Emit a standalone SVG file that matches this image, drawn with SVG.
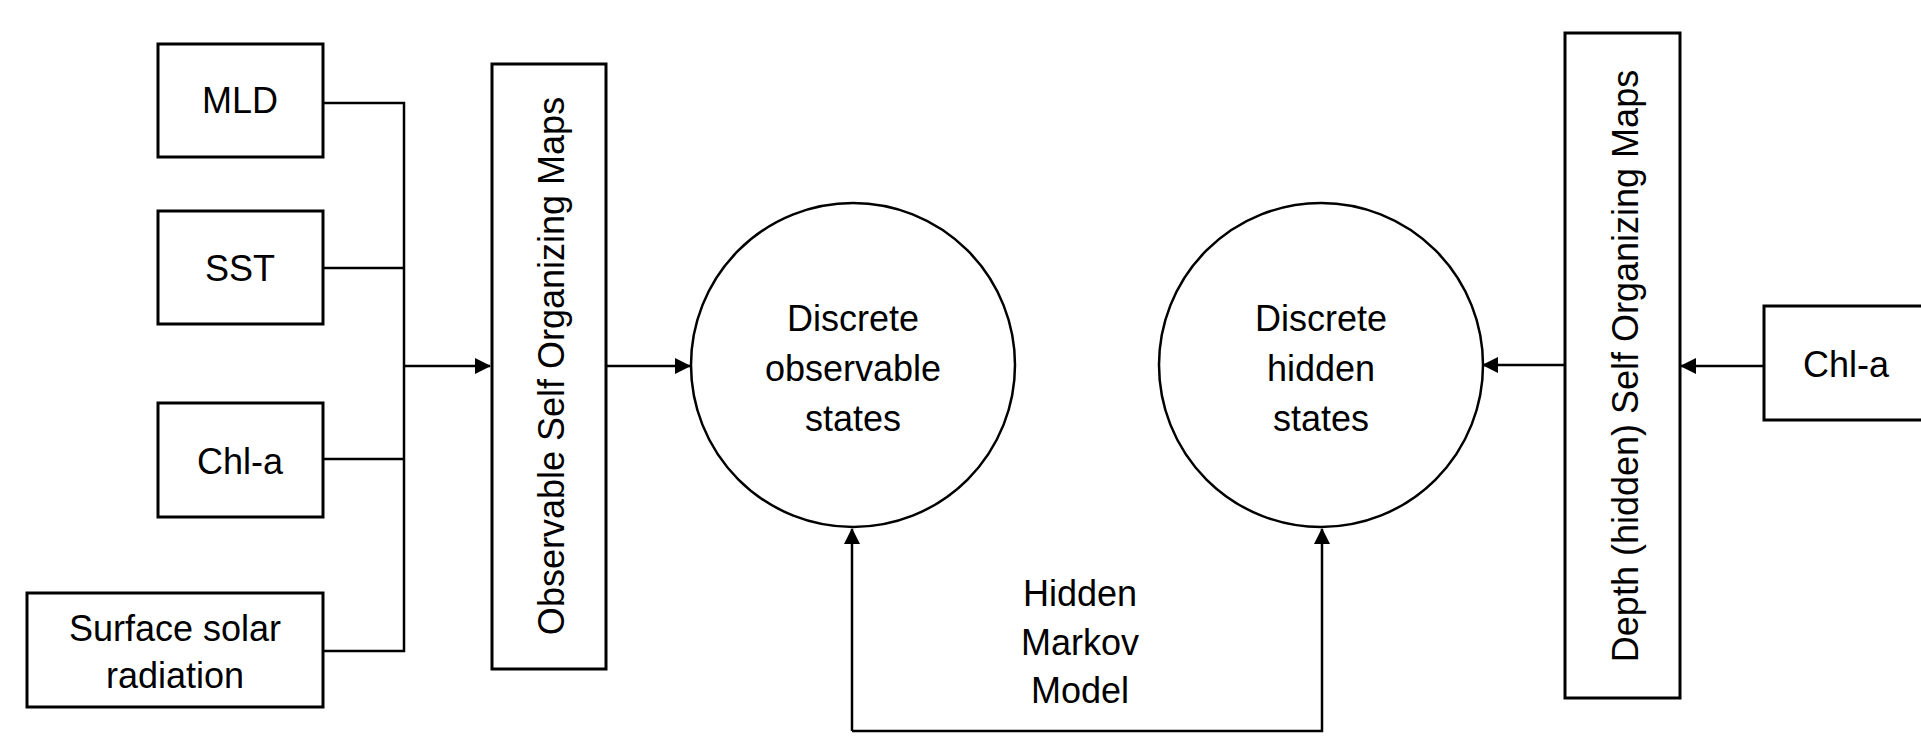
<svg xmlns="http://www.w3.org/2000/svg" width="1921" height="737" viewBox="0 0 1921 737">
<style>
.box{fill:#fff;stroke:#000;stroke-width:3}
.circ{fill:#fff;stroke:#000;stroke-width:2.5}
.conn{fill:none;stroke:#000;stroke-width:2.5}
.t{font-family:"Liberation Sans",Arial,sans-serif;font-size:36px;fill:#000;text-anchor:middle;dominant-baseline:central}
</style>
<defs>
<marker id="arr" markerUnits="userSpaceOnUse" markerWidth="16" markerHeight="16" refX="15" refY="8" orient="auto">
<path d="M0,0 L16,8 L0,16 Z" fill="#000"/>
</marker>
</defs>
<rect width="1921" height="737" fill="#fff"/>
<g id="connectors">
<path class="conn" d="M323,103 H404 V651 H323"/>
<path class="conn" d="M321,268 H404"/>
<path class="conn" d="M323,459 H404"/>
<path class="conn" d="M404,366 H490" marker-end="url(#arr)"/>
<path class="conn" d="M607,366 H690" marker-end="url(#arr)"/>
<path class="conn" d="M1565,365 H1483" marker-end="url(#arr)"/>
<path class="conn" d="M1764,366 H1681" marker-end="url(#arr)"/>
<path class="conn" d="M852,731 V529" marker-end="url(#arr)"/>
<path class="conn" d="M852,731 H1322 V529" marker-end="url(#arr)"/>
</g>
<g id="mld"><rect class="box" x="158" y="44" width="165" height="113"/><text class="t" x="240" y="100">MLD</text></g>
<g id="sst"><rect class="box" x="158" y="211" width="165" height="113"/><text class="t" x="240" y="268">SST</text></g>
<g id="chla-left"><rect class="box" x="158" y="403" width="165" height="114"/><text class="t" x="240" y="461">Chl-a</text></g>
<g id="solar"><rect class="box" x="27" y="593" width="296" height="114"/><text class="t" x="175" y="628">Surface solar</text><text class="t" x="175" y="675">radiation</text></g>
<g id="obs-som"><rect class="box" x="492" y="64" width="114" height="605"/><text class="t" transform="translate(551,366) rotate(-90)">Observable Self Organizing Maps</text></g>
<g id="obs-states"><circle class="circ" cx="853" cy="365" r="162"/><text class="t" x="853" y="318">Discrete</text><text class="t" x="853" y="368">observable</text><text class="t" x="853" y="418">states</text></g>
<g id="hidden-states"><circle class="circ" cx="1321" cy="365" r="162"/><text class="t" x="1321" y="318">Discrete</text><text class="t" x="1321" y="368">hidden</text><text class="t" x="1321" y="418">states</text></g>
<g id="depth-som"><rect class="box" x="1565" y="33" width="115" height="665"/><text class="t" transform="translate(1625,366) rotate(-90)">Depth (hidden) Self Organizing Maps</text></g>
<g id="chla-right"><rect class="box" x="1764" y="306" width="170" height="114"/><text class="t" x="1846" y="364">Chl-a</text></g>
<g id="hmm-label"><text class="t" x="1080" y="593">Hidden</text><text class="t" x="1080" y="642">Markov</text><text class="t" x="1080" y="690">Model</text></g>
</svg>
